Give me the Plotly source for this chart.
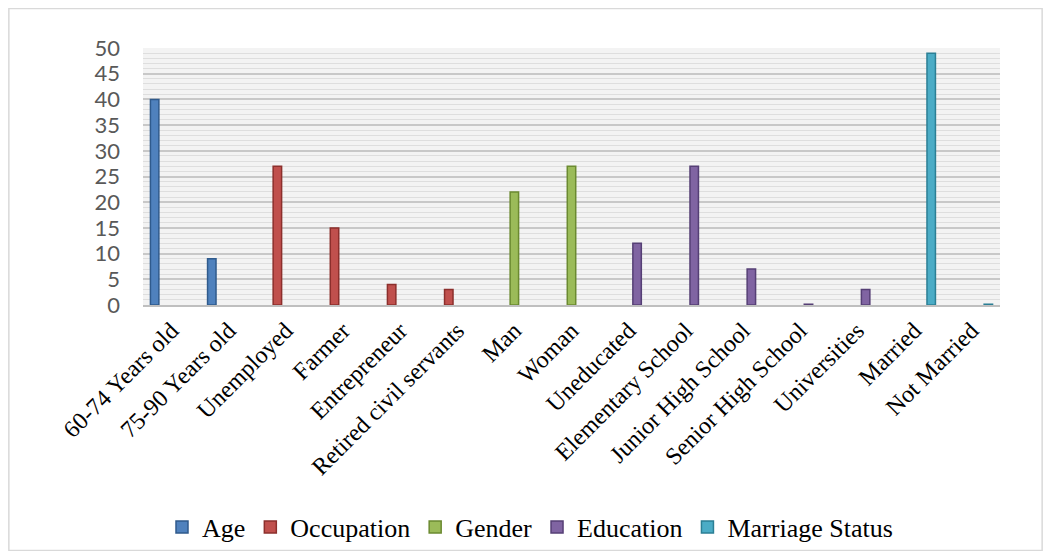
import plotly.graph_objects as go

categories = ["60-74 Years old", "75-90 Years old", "Unemployed", "Farmer", "Entrepreneur",
              "Retired civil servants", "Man", "Woman", "Uneducated", "Elementary School",
              "Junior High School", "Senior High School", "Universities", "Married", "Not Married"]

age = [40, 9, None, None, None, None, None, None, None, None, None, None, None, None, None]
occupation = [None, None, 27, 15, 4, 3, None, None, None, None, None, None, None, None, None]
gender = [None, None, None, None, None, None, 22, 27, None, None, None, None, None, None, None]
education = [None, None, None, None, None, None, None, None, 12, 27, 7, 0.15, 3, None, None]
marriage = [None, None, None, None, None, None, None, None, None, None, None, None, None, 49, 0.15]

series = [
    ("Age", age, "#4F81BD", "#2F5A8C"),
    ("Occupation", occupation, "#C0504D", "#8C2F2C"),
    ("Gender", gender, "#9BBB59", "#6B8A30"),
    ("Education", education, "#8064A2", "#553F75"),
    ("Marriage Status", marriage, "#4BACC6", "#2B7F95"),
]

fig = go.Figure()
for name, vals, col, edge in series:
    fig.add_trace(go.Bar(
        x=categories, y=vals, name=name,
        marker=dict(color=col, line=dict(color=edge, width=1.5)),
    ))

W, H = 1035, 543
L, R, T, B = 135, 43, 40, 246
pw, ph = W - L - R, H - T - B

fig.update_layout(
    width=W, height=H,
    barmode="group", bargap=0.26, bargroupgap=0.0,
    paper_bgcolor="white", plot_bgcolor="#f3f3f3",
    margin=dict(l=L, r=R, t=T, b=B, autoexpand=False),
    font=dict(family="Liberation Serif", color="black"),
    legend=dict(orientation="h", x=(530 - 8 - L) / pw, xanchor="center",
                y=-(519 - 297) / ph, yanchor="middle", bgcolor="rgba(0,0,0,0)",
                font=dict(family="Liberation Serif", size=26, color="black"),
                traceorder="normal", itemwidth=30, tracegroupgap=0),
    showlegend=True,
)
fig.update_xaxes(
    tickangle=-45, tickfont=dict(family="Liberation Serif", size=24, color="black"),
    showgrid=False, showline=True, linecolor="#bfbfbf", linewidth=2, ticks="",
    automargin=False,
)
fig.update_yaxes(
    range=[0, 50], dtick=5, tickfont=dict(family="Lato", size=22, color="#595959"),
    showgrid=True, gridcolor="#c8c8c8", gridwidth=1.5,
    minor=dict(dtick=1, showgrid=True, gridcolor="#dedede", gridwidth=1),
    zeroline=False, showline=False, ticks="", ticklabelstandoff=22,
    automargin=False,
)
fig.add_shape(type="rect", xref="paper", yref="paper",
              x0=-L / pw + 0.001, x1=1 + R / pw - 0.001,
              y0=-B / ph + 0.002, y1=1 + T / ph - 0.002,
              line=dict(color="#d9d9d9", width=1.5), fillcolor="rgba(0,0,0,0)", layer="below")

fig.write_html("out.html")
